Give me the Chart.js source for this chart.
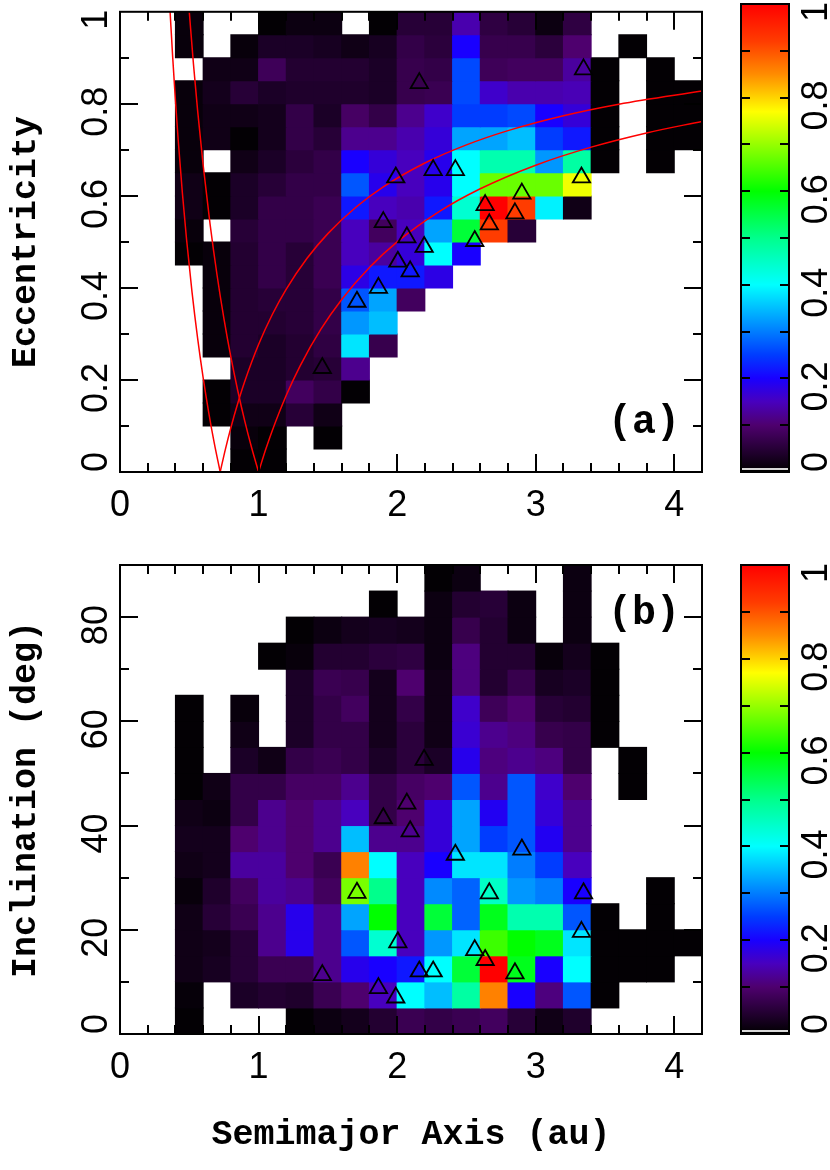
<!DOCTYPE html>
<html>
<head>
<meta charset="utf-8">
<script src="https://cdn.jsdelivr.net/npm/chart.js@4.4.1/dist/chart.umd.min.js"></script>
<style>
  html, body { margin: 0; padding: 0; background: #fff; }
  #wrap { position: relative; width: 830px; height: 1170px; overflow: hidden; }
  #wrap canvas { position: absolute; }
</style>
</head>
<body>
<div id="wrap">
  <canvas id="heatA" width="720" height="540" style="left:0px;top:0px"></canvas>
  <canvas id="barA" width="110" height="500" style="left:720px;top:0px"></canvas>
  <canvas id="heatB" width="720" height="630" style="left:0px;top:540px"></canvas>
  <canvas id="barB" width="110" height="520" style="left:720px;top:540px"></canvas>
</div>
<script>
const _ = null;

// bins (centres of the 0.2 au columns, lower edges of the rows, top row first)
const aBinCenters = [0.5, 0.7, 0.9, 1.1, 1.3, 1.5, 1.7, 1.9, 2.1, 2.3, 2.5, 2.7, 2.9, 3.1, 3.3, 3.5, 3.7, 3.9, 4.1];
const eccRowLows = [0.95, 0.90, 0.85, 0.80, 0.75, 0.70, 0.65, 0.60, 0.55, 0.50, 0.45, 0.40, 0.35, 0.30, 0.25, 0.20, 0.15, 0.10, 0.05, 0.00];
const eccBinHeight = 0.05;
const incRowLows = [85, 80, 75, 70, 65, 60, 55, 50, 45, 40, 35, 30, 25, 20, 15, 10, 5, 0];
const incBinHeight = 5;

// normalised fraction per cell, panel (a)  (null = empty cell)
const eccFraction = [
  [0.01,_,_,0.004,0.015,0.015,_,0.004,0.05,0.05,0.14,0.06,0.05,0.015,0.06,_,_,_,_],
  [0.01,_,0.01,0.035,0.035,0.03,0.02,0.03,0.065,0.055,0.2,0.07,0.07,0.055,0.1,_,0.004,_,_],
  [_,0.02,0.02,0.08,0.045,0.045,0.045,0.035,0.07,0.065,0.26,0.08,0.085,0.085,0.13,0.004,_,0.004,_],
  [0.01,0.025,0.05,0.035,0.04,0.04,0.04,0.035,0.07,0.075,0.26,0.16,0.14,0.14,0.145,0.004,_,0.004,0.004],
  [0.01,0.02,0.02,0.025,0.065,0.035,0.09,0.065,0.12,0.16,0.25,0.25,0.26,0.2,0.17,0.004,_,0.004,0.004],
  [0.01,0.02,0.004,0.025,0.065,0.05,0.12,0.12,0.14,0.17,0.33,0.33,0.35,0.25,0.22,0.004,_,0.004,0.004],
  [0.01,_,0.02,0.035,0.055,0.065,0.2,0.17,0.15,0.185,0.4,0.47,0.47,0.32,0.48,0.004,_,0.004,_],
  [0.02,0.004,0.035,0.05,0.065,0.065,0.27,0.185,0.15,0.185,0.4,0.67,0.67,0.67,0.76,_,_,_,_],
  [0.02,0.004,0.035,0.065,0.065,0.075,0.22,0.15,0.14,0.22,0.44,1.0,0.92,0.39,0.02,_,_,_,_],
  [0.01,_,0.05,0.065,0.065,0.075,0.15,0.085,0.15,0.33,0.56,0.92,0.05,_,_,_,_,_,_],
  [0.004,0.01,0.045,0.065,0.05,0.075,0.15,0.13,0.17,0.4,0.2,_,_,_,_,_,_,_,_],
  [_,0.01,0.045,0.065,0.05,0.075,0.18,0.22,0.22,0.18,_,_,_,_,_,_,_,_,_],
  [_,0.01,0.045,0.05,0.05,0.065,0.27,0.33,0.085,_,_,_,_,_,_,_,_,_,_],
  [_,0.01,0.045,0.045,0.05,0.065,0.32,0.35,_,_,_,_,_,_,_,_,_,_,_],
  [_,0.01,0.045,0.035,0.045,0.06,0.38,0.07,_,_,_,_,_,_,_,_,_,_,_],
  [_,_,0.035,0.035,0.045,0.05,0.12,_,_,_,_,_,_,_,_,_,_,_,_],
  [_,0.004,0.035,0.035,0.085,0.065,0.004,_,_,_,_,_,_,_,_,_,_,_,_],
  [_,0.004,0.02,0.02,0.05,0.02,_,_,_,_,_,_,_,_,_,_,_,_,_],
  [_,_,0.01,0.004,_,0.004,_,_,_,_,_,_,_,_,_,_,_,_,_],
  [_,_,0.004,0.004,_,_,_,_,_,_,_,_,_,_,_,_,_,_,_]
];

// normalised fraction per cell, panel (b)
const incFraction = [
  [_,_,_,_,_,_,_,_,_,0.004,0.015,_,_,_,0.015,_,_,_,_],
  [_,_,_,_,_,_,_,0.004,_,0.015,0.045,0.05,0.015,_,0.015,_,_,_,_],
  [_,_,_,_,0.004,0.015,0.025,0.03,0.025,0.015,0.07,0.045,0.015,_,0.015,_,_,_,_],
  [_,_,_,0.004,0.01,0.045,0.045,0.055,0.06,0.015,0.11,0.045,0.045,0.01,0.025,0.004,_,_,_],
  [_,_,_,_,0.035,0.075,0.07,0.025,0.1,0.02,0.11,0.045,0.07,0.03,0.035,0.004,_,_,_],
  [0.004,_,0.01,_,0.035,0.065,0.085,0.025,0.065,0.02,0.16,0.08,0.1,0.05,0.045,0.004,_,_,_],
  [0.004,_,0.02,_,0.035,0.065,0.065,0.025,0.055,0.02,0.165,0.12,0.11,0.07,0.065,0.004,_,_,_],
  [0.004,_,0.035,0.02,0.065,0.075,0.065,0.035,0.055,0.035,0.185,0.11,0.12,0.11,0.065,_,0.004,_,_],
  [0.004,0.02,0.065,0.065,0.09,0.09,0.12,0.065,0.09,0.1,0.27,0.12,0.27,0.16,0.1,_,0.004,_,_],
  [0.02,0.015,0.065,0.12,0.1,0.12,0.15,0.065,0.1,0.17,0.33,0.19,0.27,0.17,0.12,_,_,_,_],
  [0.025,0.025,0.1,0.12,0.1,0.12,0.35,0.12,0.12,0.17,0.33,0.25,0.27,0.19,0.12,_,_,_,_],
  [0.02,0.025,0.13,0.13,0.1,0.075,0.86,0.4,0.15,0.2,0.38,0.38,0.3,0.25,0.15,_,_,_,_],
  [0.01,0.04,0.085,0.13,0.12,0.085,0.68,0.5,0.15,0.31,0.28,0.45,0.32,0.3,0.2,_,_,0.004,_],
  [0.02,0.05,0.075,0.12,0.185,0.12,0.33,0.6,0.15,0.56,0.28,0.58,0.47,0.47,0.27,0.004,_,0.004,_],
  [0.02,0.025,0.05,0.12,0.185,0.12,0.27,0.44,0.15,0.32,0.38,0.64,0.6,0.58,0.38,0.004,0.004,0.004,0.004],
  [0.02,0.03,0.05,0.075,0.075,0.12,0.185,0.2,0.22,0.4,0.56,1.0,0.58,0.2,0.4,0.004,0.004,0.004,_],
  [0.008,_,0.035,0.045,0.04,0.075,0.1,0.15,0.4,0.35,0.48,0.86,0.2,0.11,0.27,0.004,_,_,_],
  [0.004,_,_,_,0.004,0.015,0.025,0.045,0.075,0.065,0.075,0.085,0.05,0.02,0.04,_,_,_,_]
];

// individual objects (triangles)
const objSemimajor    = [1.46, 1.71, 1.865, 1.90, 1.99, 2.005, 2.07, 2.094, 2.16, 2.195, 2.26, 2.42, 2.56, 2.635, 2.665, 2.85, 2.90, 3.33, 3.345];
const objEccentricity = [0.226, 0.37, 0.40, 0.543, 0.64, 0.457, 0.51, 0.436, 0.845, 0.489, 0.656, 0.656, 0.502, 0.58, 0.538, 0.562, 0.605, 0.64, 0.875];
const objInclination  = [11.3, 27.1, 8.8, 41.4, 7.0, 17.6, 44.2, 38.9, 12.0, 52.6, 12.0, 34.4, 16.1, 14.2, 27.0, 11.65, 35.4, 19.6, 27.0];

// orbit-crossing curves (Venus / Earth, aphelion and perihelion)
const aphVenusA = [0.3615, 0.38, 0.40, 0.42, 0.45, 0.48, 0.52, 0.56, 0.60, 0.64, 0.68, 0.723];
const aphVenusE = [1.0, 0.9026, 0.8075, 0.7214, 0.6067, 0.5063, 0.3904, 0.2911, 0.205, 0.1297, 0.0632, 0.0];
const aphEarthA = [0.5, 0.53, 0.56, 0.6, 0.65, 0.7, 0.75, 0.8, 0.85, 0.9, 0.95, 1.0];
const aphEarthE = [1.0, 0.8868, 0.7857, 0.6667, 0.5385, 0.4286, 0.3333, 0.25, 0.1765, 0.1111, 0.0526, 0.0];
const periVenusA = [0.723, 0.76, 0.8, 0.85, 0.9, 1.0, 1.1, 1.2, 1.35, 1.5, 1.7, 1.9, 2.2, 2.5, 2.8, 3.2, 3.6, 4.2];
const periVenusE = [0.0, 0.0487, 0.0963, 0.1494, 0.1967, 0.277, 0.3427, 0.3975, 0.4644, 0.518, 0.5747, 0.6195, 0.6714, 0.7108, 0.7418, 0.7741, 0.7992, 0.8279];
const periEarthA = [1.0, 1.05, 1.1, 1.2, 1.3, 1.45, 1.6, 1.8, 2.0, 2.3, 2.6, 3.0, 3.4, 3.8, 4.2];
const periEarthE = [0.0, 0.0476, 0.0909, 0.1667, 0.2308, 0.3103, 0.375, 0.4444, 0.5, 0.5652, 0.6154, 0.6667, 0.7059, 0.7368, 0.7619];

// colour table
const cmapStops = [
  [0.00, [0, 0, 0]],
  [0.10, [78, 0, 110]],
  [0.15, [72, 0, 190]],
  [0.20, [25, 0, 255]],
  [0.25, [0, 60, 255]],
  [0.30, [0, 125, 255]],
  [0.35, [0, 190, 255]],
  [0.40, [0, 255, 255]],
  [0.50, [0, 255, 140]],
  [0.60, [0, 255, 0]],
  [0.70, [150, 255, 0]],
  [0.77, [255, 255, 0]],
  [0.85, [255, 140, 0]],
  [0.92, [255, 60, 0]],
  [1.00, [255, 0, 0]]
];

const rgb = c => `rgb(${c[0]},${c[1]},${c[2]})`;

function cmap(v) {
  for (let i = 1; i < cmapStops.length; i++) {
    const [v1, c1] = cmapStops[i];
    if (v <= v1) {
      const [v0, c0] = cmapStops[i - 1];
      const t = (v - v0) / (v1 - v0);
      return rgb(c0.map((c, k) => Math.round(c + t * (c1[k] - c))));
    }
  }
  return rgb(cmapStops[cmapStops.length - 1][1]);
}

const zip = (xs, ys) => xs.map((x, i) => ({ x: x, y: ys[i] }));
const plainNum = v => String(+Number(v).toFixed(3));

Chart.defaults.color = '#000';
Chart.defaults.font.family = "'Liberation Sans', Arial, sans-serif";

const tickFont = { family: "'Liberation Sans', Arial, sans-serif", size: 36 };
const titleFont = { family: "'Liberation Mono', 'Courier New', monospace", size: 35, weight: 'bold' };

// frame, inward ticks, rotated y labels, panel tag
const frameDeco = {
  id: 'frameDeco',
  afterDatasetsDraw(chart, args, o) {
    const { ctx, chartArea: ca, scales } = chart;
    const xs = scales.x, ys = scales.y;
    ctx.save();
    ctx.strokeStyle = '#000';
    ctx.lineWidth = 2;
    ctx.beginPath();
    const isMajor = (v, m) => Math.abs(v / m - Math.round(v / m)) < 1e-6;
    if (o.xMinor) {
      const n = Math.round((xs.max - xs.min) / o.xMinor);
      for (let k = 1; k < n; k++) {
        const v = xs.min + k * o.xMinor;
        const len = isMajor(v, o.xMajor) ? o.majorLen : o.minorLen;
        const px = Math.round(xs.getPixelForValue(v));
        ctx.moveTo(px, ca.bottom); ctx.lineTo(px, ca.bottom - len);
        ctx.moveTo(px, ca.top); ctx.lineTo(px, ca.top + len);
      }
    }
    const ny = Math.round((ys.max - ys.min) / o.yMinor);
    for (let k = 1; k < ny; k++) {
      const v = ys.min + k * o.yMinor;
      const len = isMajor(v, o.yMajor) ? o.majorLen : o.minorLen;
      const py = Math.round(ys.getPixelForValue(v));
      ctx.moveTo(ca.left, py); ctx.lineTo(ca.left + len, py);
      ctx.moveTo(ca.right, py); ctx.lineTo(ca.right - len, py);
    }
    ctx.stroke();
    ctx.strokeRect(ca.left, ca.top, ca.right - ca.left, ca.bottom - ca.top);

    // y tick labels, rotated like the original
    ctx.fillStyle = '#000';
    ctx.font = `${tickFont.size}px ${tickFont.family}`;
    ctx.textAlign = 'center';
    ctx.textBaseline = 'middle';
    ys.ticks.forEach(t => {
      const label = plainNum(t.value);
      const w = ctx.measureText(label).width;
      let cy = ys.getPixelForValue(t.value) + o.labelShift;
      cy = Math.min(cy, ca.bottom - w / 2);
      cy = Math.max(cy, ca.top - 4 + w / 2);
      ctx.save();
      ctx.translate(o.labelX, cy);
      ctx.rotate(-Math.PI / 2);
      ctx.fillText(label, 0, 0);
      ctx.restore();
    });

    if (o.tag) {
      ctx.font = `bold 40px 'Liberation Mono', 'Courier New', monospace`;
      ctx.fillText(o.tag, ca.right - 58, o.tagTop ? ca.top + 49 : ca.bottom - 49);
    }
    ctx.restore();
  }
};

function cellDatasets(grid, rowLows, rowHeight) {
  return grid.map((row, r) => {
    const pts = [], cols = [];
    row.forEach((v, c) => {
      if (v === null) return;
      pts.push({ x: aBinCenters[c], y: [rowLows[r], rowLows[r] + rowHeight] });
      cols.push(cmap(v));
    });
    return {
      type: 'bar', data: pts, backgroundColor: cols, borderWidth: 0,
      grouped: false, barPercentage: 1, categoryPercentage: 1, inflateAmount: 0.5, order: 3
    };
  });
}

function heatChart(id, cfg) {
  const datasets = [
    {
      type: 'scatter', data: cfg.points, pointStyle: 'triangle', pointRadius: 10,
      borderColor: '#000', borderWidth: 1.8, backgroundColor: 'rgba(0,0,0,0)', order: 0
    },
    ...cfg.curves.map(c => ({
      type: 'line', data: c, borderColor: '#ff0000', borderWidth: 1.5, pointRadius: 0,
      fill: false, cubicInterpolationMode: 'monotone', order: 1
    })),
    ...cellDatasets(cfg.grid, cfg.rowLows, cfg.rowHeight)
  ];
  return new Chart(document.getElementById(id), {
    type: 'bar',
    data: { datasets },
    options: {
      responsive: false,
      animation: false,
      events: [],
      layout: { padding: { left: 0, right: 18, top: cfg.padTop, bottom: 0 } },
      plugins: {
        legend: { display: false },
        tooltip: { enabled: false },
        frameDeco: cfg.deco
      },
      scales: {
        x: {
          type: 'linear', min: 0, max: 4.2, offset: false,
          ticks: { stepSize: 1, includeBounds: false, font: tickFont, color: '#000', padding: 12, maxRotation: 0, callback: plainNum },
          grid: { display: false, drawTicks: false, offset: false },
          border: { display: false },
          title: cfg.xTitle
            ? { display: true, text: cfg.xTitle, font: titleFont, color: '#000', padding: { top: 0, bottom: 14 } }
            : { display: false },
          afterFit: s => { s.height = cfg.xHeight; }
        },
        y: {
          type: 'linear', min: cfg.yMin, max: cfg.yMax,
          ticks: { display: false, stepSize: cfg.yStep, includeBounds: false },
          grid: { display: false, drawTicks: false },
          border: { display: false },
          title: { display: true, text: cfg.yTitle, font: titleFont, color: '#000', padding: { top: 5, bottom: 0 } },
          afterFit: s => { s.width = 120; }
        }
      }
    },
    plugins: [frameDeco]
  });
}

function colorbarFill(chart) {
  const ca = chart.chartArea;
  if (!ca) return '#000';
  const ys = chart.scales.y;
  const g = chart.ctx.createLinearGradient(0, ys.getPixelForValue(0), 0, ys.getPixelForValue(1));
  g.addColorStop(0, '#000');
  g.addColorStop(0.004, '#000');
  g.addColorStop(0.005, '#d8d8d8');
  g.addColorStop(0.008, '#d8d8d8');
  g.addColorStop(0.009, rgb([7, 0, 10]));
  cmapStops.slice(1).forEach(([v, c]) => g.addColorStop(v, rgb(c)));
  return g;
}

function colorbar(id, padTop, padBottom) {
  return new Chart(document.getElementById(id), {
    type: 'bar',
    data: {
      labels: [''],
      datasets: [{
        data: [[0, 1]], backgroundColor: c => colorbarFill(c.chart), borderWidth: 0,
        barPercentage: 1, categoryPercentage: 1, inflateAmount: 0
      }]
    },
    options: {
      responsive: false,
      animation: false,
      events: [],
      layout: { padding: { left: 21, right: 41, top: padTop, bottom: padBottom } },
      plugins: {
        legend: { display: false },
        tooltip: { enabled: false },
        frameDeco: { yMinor: 0.1, yMajor: 0.2, majorLen: 9, minorLen: 9, labelX: 97, labelShift: 8 }
      },
      scales: {
        x: { display: false },
        y: { display: false, min: 0, max: 1, ticks: { stepSize: 0.2 } }
      }
    },
    plugins: [frameDeco]
  });
}

heatChart('heatA', {
  grid: eccFraction, rowLows: eccRowLows, rowHeight: eccBinHeight,
  points: zip(objSemimajor, objEccentricity),
  curves: [zip(aphVenusA, aphVenusE), zip(aphEarthA, aphEarthE), zip(periVenusA, periVenusE), zip(periEarthA, periEarthE)],
  yMin: 0, yMax: 1, yStep: 0.2, yTitle: 'Eccentricity',
  padTop: 4, xHeight: 68,
  deco: { xMinor: 0.2, xMajor: 1, yMinor: 0.1, yMajor: 0.2, majorLen: 18, minorLen: 9, labelX: 97.5, labelShift: 8, tag: '(a)', tagTop: false }
});

heatChart('heatB', {
  grid: incFraction, rowLows: incRowLows, rowHeight: incBinHeight,
  points: zip(objSemimajor, objInclination),
  curves: [],
  yMin: 0, yMax: 90, yStep: 20, yTitle: 'Inclination (deg)',
  xTitle: 'Semimajor Axis (au)',
  padTop: 25, xHeight: 136,
  deco: { xMinor: 0.2, xMajor: 1, yMinor: 10, yMajor: 20, majorLen: 18, minorLen: 9, labelX: 97.5, labelShift: 8, tag: '(b)', tagTop: true }
});

colorbar('barA', 4, 28);
colorbar('barB', 25, 26);
</script>
</body>
</html>
